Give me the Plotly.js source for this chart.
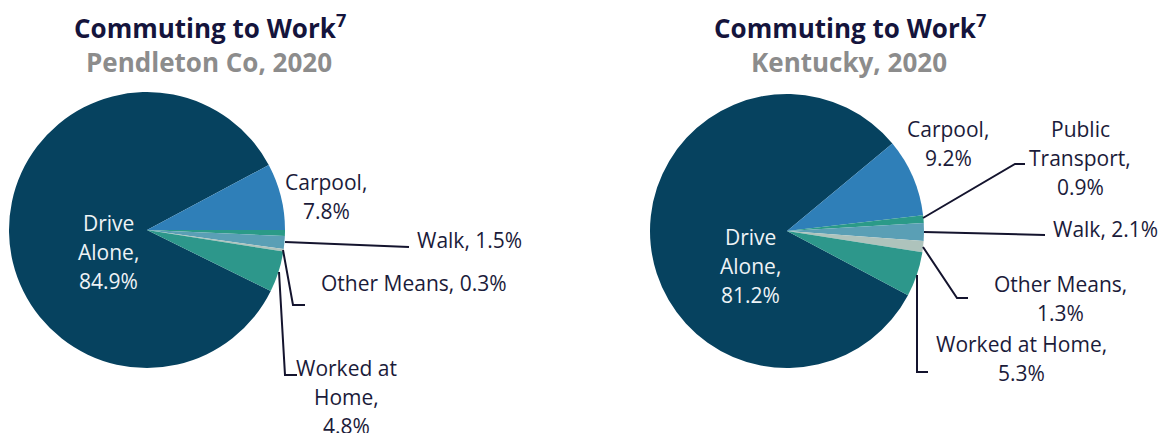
<!DOCTYPE html>
<html><head><meta charset="utf-8">
<script src="https://cdn.plot.ly/plotly-3.0.1.min.js"></script>
<style>html,body{margin:0;padding:0;background:#fff}#chart{width:1168px;height:433px}</style>
</head><body><div id="chart"></div>
<script>
// ---- data ----
const categories = ["Drive Alone", "Carpool", "Public Transport", "Walk", "Other Means", "Worked at Home"];
const pendletonValues = [84.9, 7.8, 0.7, 1.5, 0.3, 4.8];
const kentuckyValues = [81.2, 9.2, 0.9, 2.1, 1.3, 5.3];
const chartTitle = "Commuting to Work<sup>7</sup>";
const subtitles = ["Pendleton Co, 2020", "Kentucky, 2020"];

// ---- styles / layout ----
const sliceColors = ["#06425f", "#2f7fb8", "#2b9a88", "#5a9fb5", "#aec3bc", "#2d978b"];
const W = 1168, H = 433;
const px = x => x / W, py = y => 1 - y / H;
const labelFont = "Open Sans, sans-serif";
const labelColor = "#1b1b3a";
const lineColor = "#14142e";
const LS = 29; // line spacing px

function pieDomain(cx, cy, r) {
  return {x: [px(cx - r), px(cx + r)], y: [py(cy + r), py(cy - r)]};
}

function labelLines(i, values, breaks) {
  const words = (categories[i] + ", " + values[i].toFixed(1) + "%").split(" ");
  const lines = [];
  let start = 0;
  breaks.concat([words.length]).forEach(b => { lines.push(words.slice(start, b).join(" ")); start = b; });
  return lines;
}

// label placement specs: [slice index, center x, first line y, breaks, color]
const pendletonLabels = [
  [0, 108, 223, [1, 2], "#eef3f6"],
  [1, 326, 182, [1], labelColor],
  [3, 469, 240, [], labelColor],
  [4, 414, 283, [], labelColor],
  [5, 346, 368, [2, 3], labelColor]
];
const kentuckyLabels = [
  [0, 750, 237, [1, 2], "#eef3f6"],
  [1, 948, 129, [1], labelColor],
  [2, 1080, 129, [1, 2], labelColor],
  [3, 1105, 229, [], labelColor],
  [4, 1060, 284, [2], labelColor],
  [5, 1021, 344, [3], labelColor]
];

const leaderPaths = [
  [[285, 242], [409, 247]],
  [[283, 250], [293, 305], [305, 305]],
  [[279, 272], [285, 375], [297, 375]],
  [[923, 218], [1015, 164], [1025, 164]],
  [[924, 232], [1045, 235]],
  [[923, 247], [957, 298], [968, 298]],
  [[917, 275], [917, 372], [928, 372]]
];

const annotations = [];
function addLabels(specs, values) {
  specs.forEach(([i, x, y, breaks, color]) => {
    labelLines(i, values, breaks).forEach((t, k) => {
      annotations.push({text: t, xref: "paper", yref: "paper", x: px(x), y: py(y + k * LS),
        xanchor: "center", yanchor: "middle", showarrow: false,
        font: {family: labelFont, size: 21, color: color}});
    });
  });
}
addLabels(pendletonLabels, pendletonValues);
addLabels(kentuckyLabels, kentuckyValues);

[[210, subtitles[0]], [850, subtitles[1]]].forEach(([x, sub]) => {
  annotations.push({text: chartTitle, xref: "paper", yref: "paper", x: px(x), y: py(27),
    xanchor: "center", yanchor: "middle", showarrow: false,
    font: {family: "Open Sans, sans-serif", size: 26, color: "#14143c", weight: 700}});
  annotations.push({text: sub, xref: "paper", yref: "paper", x: px(x - 1), y: py(62),
    xanchor: "center", yanchor: "middle", showarrow: false,
    font: {family: "Open Sans, sans-serif", size: 26, color: "#8c8c8c", weight: 700}});
});

const shapes = leaderPaths.map(pts => ({
  type: "path", xref: "paper", yref: "paper",
  path: pts.map((p, k) => (k ? "L" : "M") + px(p[0]) + "," + py(p[1])).join(" "),
  line: {color: lineColor, width: 2}
}));

function pieTrace(values, domain, rotation) {
  return {type: "pie", labels: categories, values: values, sort: false, direction: "clockwise",
    rotation: rotation, domain: domain, textinfo: "none", hoverinfo: "skip",
    marker: {colors: sliceColors, line: {width: 0}}, showlegend: false};
}

// rotation: first slice (Drive Alone) starts where the last slice ends
const rotL = 90 + (pendletonValues.slice(2).reduce((a, b) => a + b, 0)) * 3.6;
const rotR = 83.4 + (kentuckyValues.slice(2).reduce((a, b) => a + b, 0)) * 3.6;

const data = [
  pieTrace(pendletonValues, pieDomain(147, 230, 138), rotL),
  pieTrace(kentuckyValues, pieDomain(787, 231, 137), rotR)
];

Plotly.newPlot("chart", data, {
  width: W, height: H, margin: {l: 0, r: 0, t: 0, b: 0},
  paper_bgcolor: "#ffffff", showlegend: false,
  annotations: annotations, shapes: shapes
}, {staticPlot: true, displayModeBar: false});
</script></body></html>
